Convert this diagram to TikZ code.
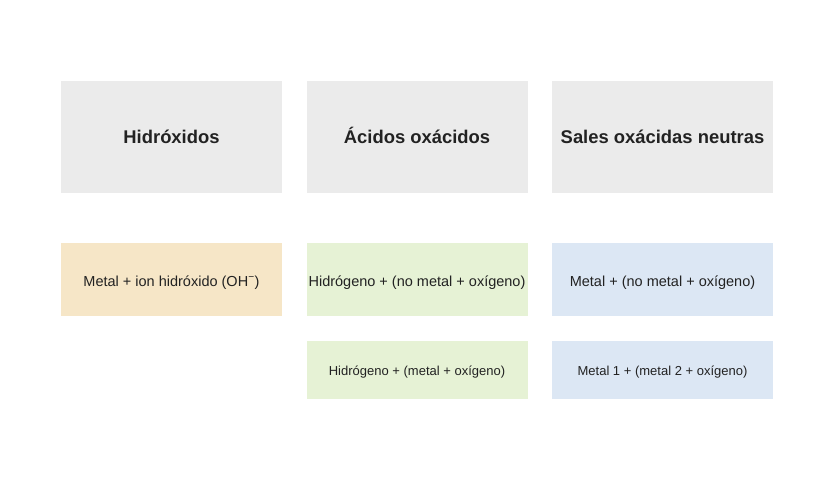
\documentclass[tikz,border=0pt]{standalone}
\usepackage{fontspec}
\setmainfont{Liberation Sans}
\usepackage{tikz}

\definecolor{headgray}{HTML}{EBEBEB}
\definecolor{peach}{HTML}{F6E6C7}
\definecolor{palegreen}{HTML}{E6F2D5}
\definecolor{paleblue}{HTML}{DCE7F4}
\definecolor{inktext}{HTML}{222222}

\begin{document}
\begin{tikzpicture}[
  x=1pt, y=-1pt,
  every node/.style={inner sep=0pt, outer sep=0pt, text=inktext, align=center},
  header/.style={fill=headgray, minimum width=221pt, minimum height=112pt,
    text height=15pt, text depth=2pt,
    font=\fontsize{18.4}{21}\selectfont\bfseries},
  cell/.style={minimum width=221pt, minimum height=73pt,
    text height=16pt, text depth=3pt,
    font=\fontsize{14.5}{17}\selectfont},
  smallcell/.style={minimum width=221pt, minimum height=58pt,
    text height=13pt, text depth=2.5pt,
    font=\fontsize{13}{15}\selectfont}
]
\useasboundingbox (0,0) rectangle (835,482);

% headers
\node[header] (hidroxidos) at (171.5,137) {Hidróxidos};
\node[header] (acidos) at (417,137) {Ácidos oxácidos};
\node[header] (sales) at (662.5,137) {Sales oxácidas neutras};

% second row
\node[cell, fill=peach] (hid1) at (171.5,279.5) {Metal + ion hidróxido (OH\textsuperscript{−})};
\node[cell, fill=palegreen] (aci1) at (417,279.5) {Hidrógeno + (no metal + oxígeno)};
\node[cell, fill=paleblue] (sal1) at (662.5,279.5) {Metal + (no metal + oxígeno)};

% third row
\node[smallcell, fill=palegreen] (aci2) at (417,370) {Hidrógeno + (metal + oxígeno)};
\node[smallcell, fill=paleblue] (sal2) at (662.5,370) {Metal 1 + (metal 2 + oxígeno)};
\end{tikzpicture}
\end{document}
